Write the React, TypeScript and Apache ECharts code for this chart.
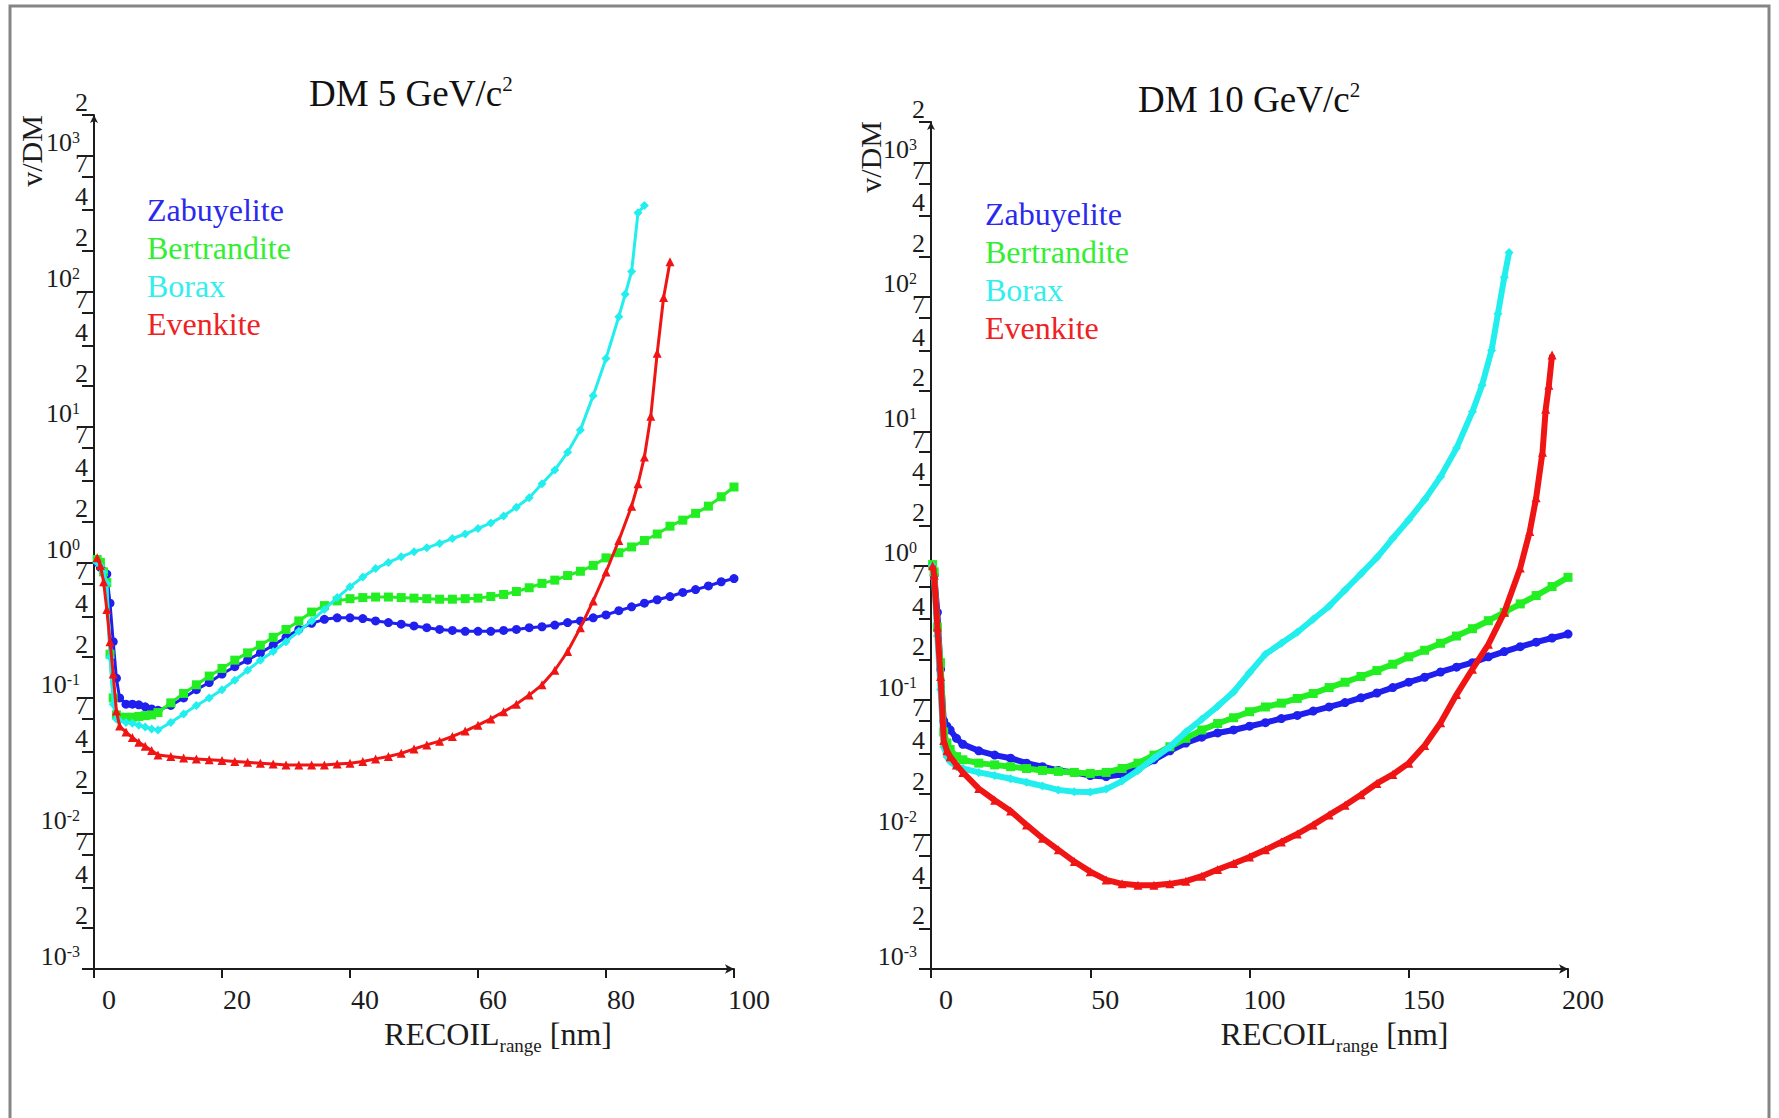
import React, { useEffect, useRef } from 'react';
import * as echarts from 'echarts';

const FONT = '"Liberation Serif", "Times New Roman", serif';
const INK = '#1c1c1c';

const SERIES_NAMES = ['Zabuyelite', 'Bertrandite', 'Borax', 'Evenkite'];
const SERIES_COLORS = ['#1f1fee', '#22ee22', '#22eeee', '#f01515'];
const LEGEND_COLORS = ['#2a2aee', '#33ee33', '#33eeee', '#ee2222'];
const SERIES_SYMBOLS = ['circle', 'rect', 'diamond', 'triangle'];

const TITLES = ['DM 5 GeV/c', 'DM 10 GeV/c'];
const Y_NAME = 'v/DM';
const X_NAME_MAIN = 'RECOIL';
const X_NAME_SUB = 'range';
const X_NAME_UNIT = ' [nm]';

const Y_MANTISSAS = [1, 2, 4, 7];
const Y_EXPONENTS = [-3, -2, -1, 0, 1, 2, 3];
const Y_MIN = 0.001;
const Y_MAX = 2000;

// ---------- left chart (DM 5 GeV/c^2) ----------
const leftXMax = 100;
const leftXStep = 20;
const leftX = [0.5, 1, 1.5, 2, 2.5, 3, 3.5, 4, 5, 6, 7, 8, 9, 10,
  12, 14, 16, 18, 20, 22, 24, 26, 28, 30, 32, 34, 36, 38, 40, 42, 44, 46, 48, 50,
  52, 54, 56, 58, 60, 62, 64, 66, 68, 70, 72, 74, 76, 78, 80, 82, 84, 86, 88, 90,
  92, 94, 96, 98, 100];
const leftZabuyelite = [1.0, 0.92, 0.86, 0.82, 0.5, 0.26, 0.14, 0.1, 0.09, 0.09, 0.089, 0.086, 0.083, 0.081,
  0.088, 0.1, 0.115, 0.13, 0.15, 0.17, 0.19, 0.215, 0.245, 0.28, 0.32, 0.355, 0.38, 0.39, 0.39, 0.385, 0.37, 0.36, 0.35, 0.34,
  0.33, 0.32, 0.315, 0.31, 0.31, 0.31, 0.315, 0.32, 0.33, 0.335, 0.345, 0.36, 0.37, 0.39, 0.41, 0.44, 0.47, 0.5, 0.53, 0.56,
  0.6, 0.63, 0.67, 0.72, 0.76];
const leftBertrandite = [1.05, 1.0, 0.85, 0.71, 0.21, 0.1, 0.075, 0.072, 0.072, 0.072, 0.073, 0.074, 0.075, 0.078,
  0.092, 0.108, 0.125, 0.145, 0.165, 0.19, 0.215, 0.245, 0.28, 0.32, 0.37, 0.43, 0.48, 0.52, 0.54, 0.55, 0.555, 0.555, 0.55, 0.545,
  0.54, 0.535, 0.535, 0.54, 0.545, 0.56, 0.58, 0.61, 0.65, 0.7, 0.74, 0.8, 0.86, 0.95, 1.08, 1.18, 1.3, 1.45, 1.62, 1.85,
  2.05, 2.3, 2.6, 3.05, 3.6];
const leftBoraxX = [0.5, 1, 1.5, 2, 2.5, 3, 3.5, 4, 5, 6, 7, 8, 9, 10,
  12, 14, 16, 18, 20, 22, 24, 26, 28, 30, 32, 34, 36, 38, 40, 42, 44, 46, 48, 50,
  52, 54, 56, 58, 60, 62, 64, 66, 68, 70, 72, 74, 76, 78, 80, 82, 83, 84, 85, 86];
const leftBorax = [1.0, 0.95, 0.85, 0.7, 0.2, 0.09, 0.07, 0.068, 0.066, 0.065, 0.063, 0.061, 0.059, 0.058,
  0.066, 0.076, 0.088, 0.1, 0.115, 0.135, 0.16, 0.19, 0.22, 0.26, 0.31, 0.37, 0.45, 0.55, 0.66, 0.78, 0.9, 1.0, 1.1, 1.2,
  1.28, 1.38, 1.5, 1.62, 1.78, 1.95, 2.2, 2.55, 3.0, 3.8, 4.8, 6.5, 9.5, 17, 32, 65, 95, 140, 380, 430];
const leftEvenkiteX = [0.5, 1, 1.5, 2, 2.5, 3, 3.5, 4, 5, 6, 7, 8, 9, 10,
  12, 14, 16, 18, 20, 22, 24, 26, 28, 30, 32, 34, 36, 38, 40, 42, 44, 46, 48, 50,
  52, 54, 56, 58, 60, 62, 64, 66, 68, 70, 72, 74, 76, 78, 80, 82, 84, 85, 86, 87, 88, 89, 90];
const leftEvenkite = [1.08, 0.95, 0.72, 0.45, 0.26, 0.15, 0.08, 0.062, 0.056, 0.051, 0.047, 0.044, 0.041, 0.038,
  0.037, 0.036, 0.0355, 0.035, 0.0345, 0.034, 0.0335, 0.033, 0.0325, 0.032, 0.032, 0.032, 0.032, 0.0325, 0.033, 0.034, 0.0355, 0.037, 0.039, 0.042,
  0.045, 0.048, 0.052, 0.057, 0.063, 0.07, 0.079, 0.09, 0.105, 0.125, 0.16, 0.22, 0.33, 0.52, 0.85, 1.45, 2.6, 3.8, 6, 12, 35, 90, 165];

// ---------- right chart (DM 10 GeV/c^2) ----------
const rightXMax = 200;
const rightXStep = 50;
const rightX = [0.5, 1, 2, 3, 4, 5, 6, 8, 10,
  15, 20, 25, 30, 35, 40, 45, 50, 55, 60, 65, 70, 75, 80, 85, 90, 95, 100,
  105, 110, 115, 120, 125, 130, 135, 140, 145, 150, 155, 160, 165, 170, 175, 180, 185, 190, 195, 200];
const rightZabuyelite = [1.0, 0.85, 0.45, 0.17, 0.07, 0.064, 0.06, 0.052, 0.047,
  0.042, 0.039, 0.037, 0.034, 0.032, 0.03, 0.029, 0.0275, 0.027, 0.028, 0.031, 0.036, 0.042, 0.048, 0.053, 0.057, 0.06, 0.064,
  0.068, 0.073, 0.077, 0.083, 0.089, 0.096, 0.104, 0.113, 0.124, 0.136, 0.148, 0.162, 0.176, 0.19, 0.21, 0.23, 0.25, 0.27, 0.29, 0.31];
const rightBertrandite = [1.02, 0.9, 0.35, 0.19, 0.058, 0.048, 0.043, 0.038, 0.036,
  0.034, 0.033, 0.032, 0.031, 0.03, 0.0295, 0.029, 0.0285, 0.029, 0.031, 0.034, 0.039, 0.045, 0.052, 0.06, 0.067, 0.074, 0.082,
  0.089, 0.095, 0.103, 0.112, 0.124, 0.136, 0.15, 0.166, 0.185, 0.21, 0.235, 0.265, 0.3, 0.34, 0.39, 0.45, 0.52, 0.6, 0.7, 0.82];
const rightBoraxX = [0.5, 1, 2, 3, 4, 5, 6, 8, 10,
  15, 20, 25, 30, 35, 40, 45, 50, 55, 60, 65, 70, 75, 80, 85, 90, 95, 100,
  105, 110, 115, 120, 125, 130, 135, 140, 145, 150, 155, 160, 165, 170, 173, 176, 178, 180, 181.5];
const rightBorax = [1.0, 0.8, 0.3, 0.12, 0.045, 0.038, 0.035, 0.032, 0.031,
  0.029, 0.0275, 0.026, 0.0245, 0.023, 0.0215, 0.0208, 0.0207, 0.0218, 0.025, 0.03, 0.037, 0.045, 0.058, 0.072, 0.09, 0.115, 0.16,
  0.22, 0.265, 0.32, 0.4, 0.5, 0.66, 0.87, 1.15, 1.6, 2.2, 3.1, 4.6, 7.5, 14, 22, 40, 75, 140, 214];
const rightEvenkiteX = [0.5, 1, 2, 3, 4, 5, 6, 8, 10,
  15, 20, 25, 30, 35, 40, 45, 50, 55, 60, 65, 70, 75, 80, 85, 90, 95, 100,
  105, 110, 115, 120, 125, 130, 135, 140, 145, 150, 155, 160, 165, 170, 175, 180, 185, 188, 190, 192, 193, 194, 195];
const rightEvenkite = [1.0, 0.85, 0.35, 0.15, 0.05, 0.042, 0.038, 0.033, 0.029,
  0.022, 0.018, 0.015, 0.0118, 0.0094, 0.0077, 0.0063, 0.0053, 0.0046, 0.0043, 0.0042, 0.0042, 0.0043, 0.0045, 0.0049, 0.0055, 0.0061, 0.0068,
  0.0077, 0.0088, 0.0101, 0.0118, 0.014, 0.0165, 0.0198, 0.024, 0.028, 0.034, 0.046, 0.068, 0.11, 0.17, 0.26, 0.45, 0.96, 1.8, 3.2, 7, 14.6, 22, 37];

const zip = (xs: number[], ys: number[]) => xs.map((x, i) => [x, ys[i]]);

const yTickLogs = Y_EXPONENTS.flatMap((e) => Y_MANTISSAS.map((m) => e + Math.log10(m)))
  .filter((v) => v <= Math.log10(Y_MAX) + 1e-9);

const yLabelFormatter = (v: number) => {
  const e = Math.floor(v + 1e-6);
  const m = Math.round(Math.pow(10, v - e));
  return m === 1 ? `{b|10}{s|${e}}` : `{m|${m}}`;
};

function buildAxes(gridIndex: number, xMax: number, xStep: number, nameShift: number) {
  const xAxis = {
    type: 'value', gridIndex, min: 0, max: xMax, interval: xStep,
    axisLine: { show: true, onZero: false, symbol: ['none', 'arrow'], symbolSize: [7, 9], lineStyle: { color: INK, width: 2 } },
    axisTick: { show: true, length: 9, lineStyle: { color: INK, width: 2 } },
    splitLine: { show: false },
    axisLabel: {
      margin: 16,
      formatter: (v: number) => `{x|${v}}`,
      rich: { x: { fontFamily: FONT, fontSize: 28, color: INK, padding: [0, 0, 0, 30] } },
    },
    name: `{m|${X_NAME_MAIN}}{s|${X_NAME_SUB}}{m|${X_NAME_UNIT}}`,
    nameLocation: 'middle', nameGap: 38,
    nameTextStyle: {
      padding: [0, 0, 0, nameShift],
      rich: {
        m: { fontFamily: FONT, fontSize: 32, color: INK, lineHeight: 42 },
        s: { fontFamily: FONT, fontSize: 19, color: INK, lineHeight: 19, verticalAlign: 'bottom' },
      },
    },
  };
  const yLog = {
    type: 'log', logBase: 10, gridIndex, min: Y_MIN, max: Y_MAX, position: 'left',
    axisLine: { show: true, onZero: false, symbol: ['none', 'arrow'], symbolSize: [6, 8], lineStyle: { color: INK, width: 2 } },
    axisTick: { show: false }, axisLabel: { show: false }, splitLine: { show: false }, minorTick: { show: false },
  };
  const yTicks = {
    type: 'value', gridIndex, min: -3, max: Math.log10(Y_MAX), position: 'left',
    axisLine: { show: false },
    splitLine: { show: false },
    axisTick: { show: true, length: 12, customValues: yTickLogs, lineStyle: { color: INK, width: 2 } },
    axisLabel: {
      customValues: yTickLogs, margin: 6, verticalAlign: 'bottom',
      formatter: yLabelFormatter,
      rich: {
        b: { fontFamily: FONT, fontSize: 26, color: INK, lineHeight: 26 },
        s: { fontFamily: FONT, fontSize: 16, color: INK, lineHeight: 16, verticalAlign: 'top', padding: [0, 8, 0, 0] },
        m: { fontFamily: FONT, fontSize: 26, color: INK, lineHeight: 26 },
      },
    },
  };
  return { xAxis, yLog, yTicks };
}

function makeSeries(xIndex: number, yIndex: number, sets: number[][][], width: number, size: number) {
  return sets.map((data, i) => ({
    type: 'line', name: SERIES_NAMES[i], xAxisIndex: xIndex, yAxisIndex: yIndex, data,
    symbol: SERIES_SYMBOLS[i], symbolSize: size,
    lineStyle: { color: SERIES_COLORS[i], width },
    itemStyle: { color: SERIES_COLORS[i] },
    z: 2 + i,
  }));
}

function legendFor(left: number, top: number) {
  return {
    orient: 'vertical', left, top, itemWidth: 0, itemHeight: 0, itemGap: 6, selectedMode: false,
    icon: 'circle',
    itemStyle: { opacity: 0 }, lineStyle: { opacity: 0 },
    textStyle: { fontFamily: FONT, fontSize: 32, lineHeight: 30 },
    data: SERIES_NAMES.map((n, i) => ({ name: n, textStyle: { color: LEGEND_COLORS[i], fontFamily: FONT, fontSize: 32 } })),
  };
}

function titleFor(text: string, left: number, top: number) {
  return {
    text: `{a|${text}}{s|2}`, left, top,
    textStyle: {
      fontWeight: 'normal',
      rich: {
        a: { fontFamily: FONT, fontSize: 37, fontWeight: 'normal', color: '#111', lineHeight: 40 },
        s: { fontFamily: FONT, fontSize: 21, fontWeight: 'normal', color: '#111', lineHeight: 20, verticalAlign: 'top' },
      },
    },
  };
}

export default function App() {
  const ref = useRef<HTMLDivElement>(null);
  useEffect(() => {
    if (!ref.current) return;
    const chart = echarts.init(ref.current, undefined, { renderer: 'svg' });
    const L = buildAxes(0, leftXMax, leftXStep, 168);
    const R = buildAxes(1, rightXMax, rightXStep, 170);
    const option: any = {
      animation: false,
      backgroundColor: '#ffffff',
      title: [titleFor(TITLES[0], 304, 68), titleFor(TITLES[1], 1133, 74)],
      legend: [legendFor(137, 189), legendFor(975, 193)],
      grid: [
        { left: 94, top: 115, width: 640, height: 854 },
        { left: 931, top: 122, width: 637, height: 847 },
      ],
      xAxis: [L.xAxis, R.xAxis],
      yAxis: [L.yLog, L.yTicks, R.yLog, R.yTicks],
      series: [
        ...makeSeries(0, 0, [
          zip(leftX, leftZabuyelite), zip(leftX, leftBertrandite),
          zip(leftBoraxX, leftBorax), zip(leftEvenkiteX, leftEvenkite),
        ], 3, 9),
        ...makeSeries(1, 2, [
          zip(rightX, rightZabuyelite), zip(rightX, rightBertrandite),
          zip(rightBoraxX, rightBorax), zip(rightEvenkiteX, rightEvenkite),
        ], 6, 9),
      ],
      graphic: [
        { type: 'rect', silent: true, shape: { x: 10, y: 6, width: 1759, height: 1200 }, style: { fill: 'none', stroke: '#858585', lineWidth: 3 } },
        { type: 'text', x: 31, y: 151, rotation: Math.PI / 2, silent: true,
          style: { text: Y_NAME, fontFamily: FONT, fontSize: 30, fill: INK, align: 'center', verticalAlign: 'middle' } },
        { type: 'text', x: 870, y: 157, rotation: Math.PI / 2, silent: true,
          style: { text: Y_NAME, fontFamily: FONT, fontSize: 30, fill: INK, align: 'center', verticalAlign: 'middle' } },
      ],
    };
    chart.setOption(option);
    return () => chart.dispose();
  }, []);
  return <div ref={ref} style={{ position: 'absolute', left: 0, top: 0, width: 1779, height: 1118 }} />;
}
